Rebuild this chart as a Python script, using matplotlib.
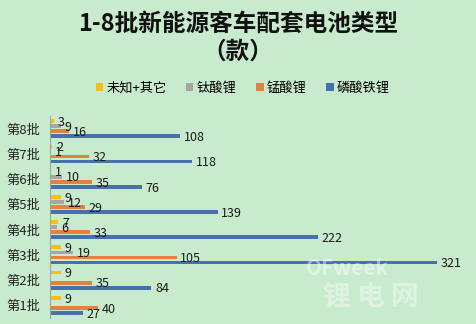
import matplotlib
matplotlib.use('Agg')
import matplotlib.pyplot as plt
import numpy as np
from matplotlib.patches import Patch

plt.rcParams['font.family'] = ['Noto Sans CJK SC', 'DejaVu Sans']

batches = ['第1批', '第2批', '第3批', '第4批', '第5批', '第6批', '第7批', '第8批']
series_names = ['未知+其它', '钛酸锂', '锰酸锂', '磷酸铁锂']
unknown = [9, 9, 9, 7, 9, 1, 2, 3]
lto = [0, 0, 19, 6, 12, 10, 1, 9]
lmo = [40, 35, 105, 33, 29, 35, 32, 16]
lfp = [27, 84, 321, 222, 139, 76, 118, 108]

colors = ['#F5C10A', '#A6A6A6', '#E5803E', '#4870AE']
bg = '#C8EBCD'

fig = plt.figure(figsize=(4.76, 3.24), dpi=100, facecolor=bg)
ax = fig.add_axes([0.105, 0.0185, 0.882, 0.623])
ax.set_facecolor(bg)

y = np.arange(len(batches))
offsets = [0.3, 0.1, -0.1, -0.3]
for vals, off, c in zip([unknown, lto, lmo, lfp], offsets, colors):
    ax.barh(y + off, vals, height=0.15, color=c)
    for yi, v in zip(y, vals):
        if v > 0:
            ax.text(v + 3, yi + off - 0.05, str(v), ha='left', va='center',
                    fontsize=9, color='#1a1a1a')

ax.set_xlim(0, 348)
ax.set_ylim(-0.5, 7.5)
ax.set_yticks(y)
ax.set_yticklabels(batches, fontsize=9.5, color='#222222')
ax.tick_params(axis='y', length=0, pad=7)
ax.set_xticks([])
for s in ['top', 'right', 'bottom']:
    ax.spines[s].set_visible(False)
ax.spines['left'].set_color('#9aa6a0')
ax.spines['left'].set_linewidth(0.8)

fig.text(0.5, 0.928, '1-8批新能源客车配套电池类型', ha='center', va='center',
         fontsize=17, fontweight='bold', color='#111111')
fig.text(0.5, 0.842, '（款）', ha='center', va='center',
         fontsize=17, fontweight='bold', color='#111111')

handles = [Patch(facecolor=c, edgecolor='none') for c in colors]
fig.legend(handles, series_names, loc='center', bbox_to_anchor=(0.51, 0.728),
           ncol=4, frameon=False, fontsize=9.5, handlelength=0.55, handleheight=0.55,
           handletextpad=0.25, columnspacing=1.5)

# watermark
fig.text(0.73, 0.172, 'OFweek', ha='center', va='center', fontsize=15,
         fontstyle='italic', fontweight='bold', color='white', alpha=0.45)
fig.text(0.78, 0.085, '锂 电 网', ha='center', va='center', fontsize=20,
         fontweight='bold', color='white', alpha=0.4)

fig.savefig('out.png', dpi=100, facecolor=bg)
